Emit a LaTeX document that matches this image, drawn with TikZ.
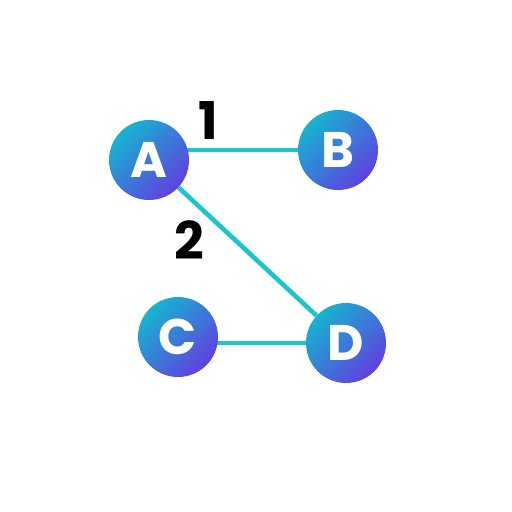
\documentclass[tikz,border=0pt]{standalone}
\usepackage{fontspec}
\setmainfont{Poppins}[BoldFont=* Bold]
\usetikzlibrary{backgrounds}
\definecolor{gtop}{HTML}{16B4D0}
\definecolor{gbot}{HTML}{6040E0}
\definecolor{edgec}{HTML}{1CC4CC}
\tikzset{
  vert/.style={circle, minimum size=80pt, inner sep=0pt, top color=gtop, bottom color=gbot, shading angle=45,
    text=white, font=\fontsize{50}{50}\selectfont\bfseries},
  conn/.style={draw=edgec, line width=4.6pt},
  wlabel/.style={text=black, font=\fontsize{52}{52}\selectfont\bfseries}
}
\begin{document}
\begin{tikzpicture}[x=1pt,y=-1pt]
\useasboundingbox (0,0) rectangle (512,512);
\node[vert] (A) at (149,160) {A};
\node[vert] (B) at (338,150) {B};
\node[vert] (C) at (178,337) {C};
\node[vert] (D) at (346,343) {D};
\node[wlabel] (l1) at (208,121) {1};
\node[wlabel] (l2) at (189,240) {2};
\begin{scope}[on background layer]
\draw[conn] (A.center |- B.center) -- (B.center);
\draw[conn] (A) -- (D);
\draw[conn] (C.center |- D.center) -- (D.center);
\end{scope}
\end{tikzpicture}
\end{document}
